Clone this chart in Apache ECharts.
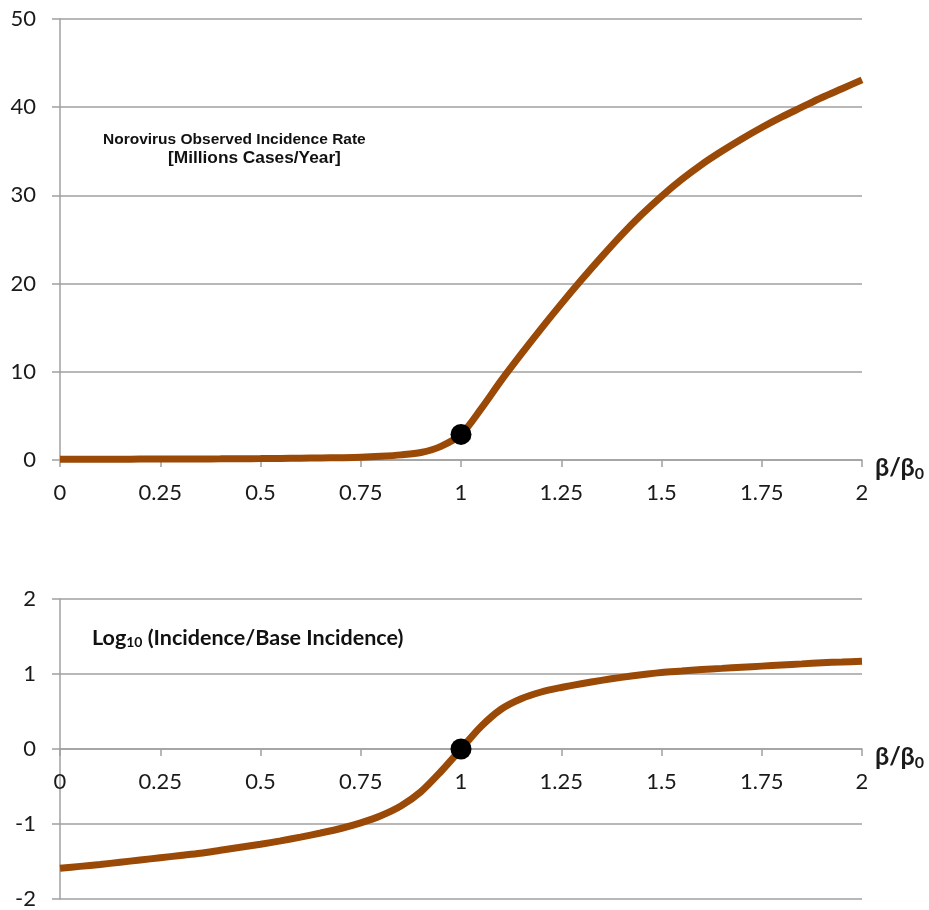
<!DOCTYPE html>
<html>
<head>
<meta charset="utf-8">
<script src="https://cdn.jsdelivr.net/npm/echarts@6/dist/echarts.min.js"></script>
<style>
html,body{margin:0;padding:0;background:#fff;}
#c{width:929px;height:910px;}
</style>
</head>
<body>
<div id="c"></div>
<script>
// ---- data ----
var xVals = [0, 0.05, 0.1, 0.15, 0.2, 0.25, 0.3, 0.35, 0.4, 0.45, 0.5, 0.55, 0.6, 0.65, 0.7, 0.75, 0.8, 0.85, 0.9, 0.95,
             1.0, 1.05, 1.1, 1.15, 1.2, 1.25, 1.3, 1.35, 1.4, 1.45, 1.5, 1.55, 1.6, 1.65, 1.7, 1.75, 1.8, 1.85, 1.9, 1.95, 2.0];
var incidence = [0.08, 0.085, 0.09, 0.095, 0.1, 0.105, 0.11, 0.12, 0.13, 0.145, 0.16, 0.18, 0.2, 0.23, 0.26, 0.31, 0.42, 0.58, 0.85, 1.55,
                 2.9, 5.8, 9.0, 12.0, 14.9, 17.7, 20.4, 23.0, 25.5, 27.8, 29.9, 31.8, 33.5, 35.0, 36.4, 37.7, 38.9, 40.0, 41.1, 42.1, 43.1];
var logRatio = [-1.59, -1.565, -1.54, -1.51, -1.48, -1.45, -1.42, -1.39, -1.35, -1.31, -1.27, -1.225, -1.175, -1.12, -1.06, -0.985, -0.89, -0.76, -0.57, -0.3,
                0, 0.3, 0.53, 0.67, 0.76, 0.82, 0.87, 0.915, 0.955, 0.99, 1.02, 1.04, 1.06, 1.075, 1.09, 1.105, 1.12, 1.135, 1.15, 1.16, 1.17];
var basePoint = [1, 2.9];
var baseLogPoint = [1, 0];
var xTickLabels = ['0', '0.25', '0.5', '0.75', '1', '1.25', '1.5', '1.75', '2'];
var topYTicks = [0, 10, 20, 30, 40, 50];
var botYTicks = [-2, -1, 0, 1, 2];

function pairs(xs, ys){ return xs.map(function(x,i){ return [x, ys[i]]; }); }

var chart = echarts.init(document.getElementById('c'), null, {renderer:'canvas'});
var axisGrey = '#a0a0a0';
var lineColor = '#9A4A06';
var labelFont = {fontFamily:'Lato', fontSize:22, color:'#1a1a1a'};

function xAxisCfg(gi, off){
  return {
    type:'value', gridIndex:gi, min:0, max:2, interval:0.25,
    position:'bottom', offset:off,
    axisLine:{show:true, onZero:false, lineStyle:{color:axisGrey, width:1.5}},
    axisTick:{show:true, length:7, lineStyle:{color:axisGrey, width:1.5}},
    splitLine:{show:false},
    axisLabel:Object.assign({margin:22, formatter:function(v){ var i=Math.round(v/0.25); return xTickLabels[i]; }}, labelFont),
    name:'{b|β/β}{s|0}',
    nameLocation:'end', nameGap:13,
    nameTextStyle:{padding:[16,0,0,0], rich:{
      b:{fontFamily:'Lato', fontWeight:'bold', fontSize:25, color:'#1a1a1a'},
      s:{fontFamily:'Lato', fontWeight:'bold', fontSize:16, color:'#1a1a1a', padding:[11,0,0,0]}
    }}
  };
}
function yAxisCfg(gi, mn, mx, iv, ticks){
  return {
    type:'value', gridIndex:gi, min:mn, max:mx, interval:iv,
    axisLine:{show:true, onZero:false, lineStyle:{color:axisGrey, width:1.5}},
    axisTick:{show:true, length:8, lineStyle:{color:axisGrey, width:1.5}},
    splitLine:{show:true, lineStyle:{color:axisGrey, width:1.5}},
    axisLabel:Object.assign({margin:24, formatter:function(v){ return ticks.indexOf(v) >= 0 ? String(v) : ''; }}, labelFont)
  };
}

chart.setOption({
  animation:false,
  backgroundColor:'#fff',
  grid:[
    {left:60, right:67, top:19, height:441},
    {left:60, right:67, top:599, height:300}
  ],
  xAxis:[xAxisCfg(0, 0), xAxisCfg(1, -150)],
  yAxis:[yAxisCfg(0, 0, 50, 10, topYTicks), yAxisCfg(1, -2, 2, 1, botYTicks)],
  series:[
    {type:'line', xAxisIndex:0, yAxisIndex:0, data:pairs(xVals, incidence), smooth:0.3, showSymbol:false,
      lineStyle:{color:lineColor, width:7}, z:2},
    {type:'scatter', xAxisIndex:0, yAxisIndex:0, data:[basePoint], symbolSize:21, itemStyle:{color:'#000', opacity:1}, z:3},
    {type:'line', xAxisIndex:1, yAxisIndex:1, data:pairs(xVals, logRatio), smooth:0.3, showSymbol:false,
      lineStyle:{color:lineColor, width:7}, z:2},
    {type:'scatter', xAxisIndex:1, yAxisIndex:1, data:[baseLogPoint], symbolSize:21, itemStyle:{color:'#000', opacity:1}, z:3}
  ],
  graphic:[
    {type:'text', left:103, top:132, style:{text:'Norovirus Observed Incidence Rate', fontFamily:'Liberation Sans', fontWeight:'bold', fontSize:15.5, fill:'#111'}},
    {type:'text', left:168, top:151, scaleX:1.08, style:{text:'[Millions Cases/Year]', fontFamily:'Liberation Sans', fontWeight:'bold', fontSize:16, fill:'#111'}},
    {type:'text', left:92, top:627, style:{
      text:'{a|Log}{s|10}{a| (Incidence/Base Incidence)}',
      rich:{
        a:{fontFamily:'Lato', fontWeight:'bold', fontSize:21.5, fill:'#111', color:'#111'},
        s:{fontFamily:'Lato', fontWeight:'bold', fontSize:14, fill:'#111', color:'#111', padding:[9,0,0,0]}
      }}}
  ]
});
</script>
</body>
</html>
